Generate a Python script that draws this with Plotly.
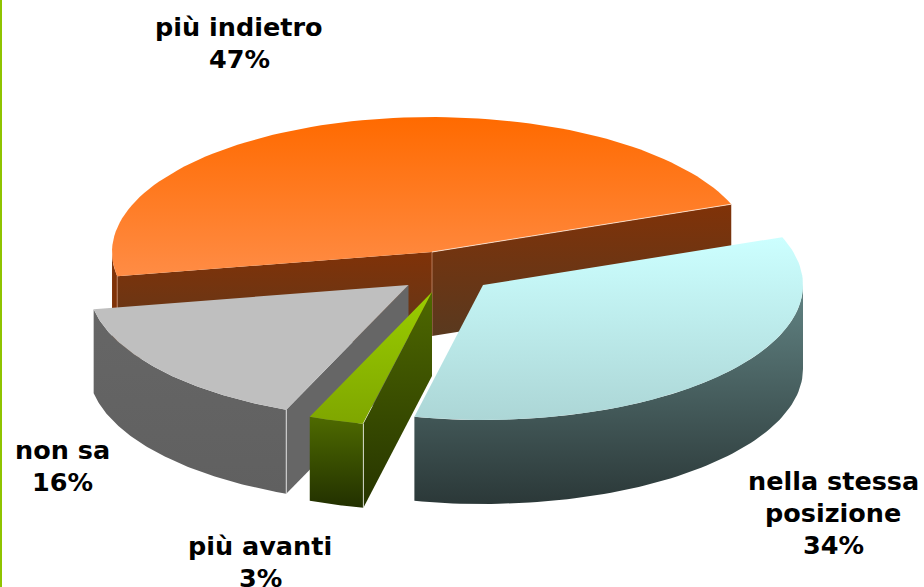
import numpy as np
import plotly.graph_objects as go

# --- data ---
labels = ["più indietro", "nella stessa<br>posizione", "più avanti", "non sa"]
values = [47.1, 34.2, 2.8, 15.9]

# --- style / geometry of the fake-3D pie ---
START_DEG = 190.3            # first slice starts here, runs clockwise
RX, RY, DEPTH = 320, 135, 84
offsets = [(432, 252), (483, 285), (432, 292), (408.5, 285)]
top_grad = [("#ff6a00", "#ff8c45"), ("#ccffff", "#acd6d6"), ("#9acd00", "#7fa600"), ("#bfbfbf", "#bfbfbf")]
wall_grad = [("#7f3208", "#7f3208"), ("#628484", "#2b3838"), ("#4e6a00", "#223000"), ("#666666", "#606060")]
cut_grad = [("#803208", "#59391f"), None, ("#4e6800", "#263400"), ("#666666", "#666666")]
label_pos = [(239, 27), (833, 481), (260, 546), (62, 450)]
LINE_STEP = 32

fig = go.Figure()


def poly(xs, ys, colors):
    fig.add_trace(go.Scatter(
        x=xs, y=ys, mode="lines", fill="toself", line=dict(width=0),
        fillgradient=dict(type="vertical", colorscale=[[0, colors[1]], [1, colors[0]]]),
        hoverinfo="skip", showlegend=False))


def edge(xs, ys, color="rgba(255,255,255,0.75)", width=1):
    fig.add_trace(go.Scatter(x=xs, y=ys, mode="lines", line=dict(color=color, width=width),
                             hoverinfo="skip", showlegend=False))


total = sum(values)
angles = [START_DEG]
for v in values:
    angles.append(angles[-1] - 360 * v / total)


def rim(i):
    t = np.radians(np.linspace(angles[i], angles[i + 1], 90))
    cx, cy = offsets[i]
    return cx + RX * np.cos(t), cy - RY * np.sin(t)


def draw_slice(i):
    cx, cy = offsets[i]
    ex, ey = rim(i)
    # cut faces
    if cut_grad[i]:
        ends = [(ex[0], ey[0]), (ex[-1], ey[-1])] if i == 0 else [(ex[0], ey[0])]
        for px, py in ends:
            poly([cx, px, px, cx, cx], [cy, py, py + DEPTH, cy + DEPTH, cy], cut_grad[i])
    # outer wall: only the part of the rim that faces front
    front = ey >= cy
    if front.sum() > 1:
        wx, wy = ex[front], ey[front]
        poly(list(wx) + list(wx[::-1]), list(wy) + list(wy[::-1] + DEPTH), wall_grad[i])
    # top
    poly([cx] + list(ex) + [cx], [cy] + list(ey) + [cy], top_grad[i])
    return ex, ey


# back slice first, then the rest in depth order
ex0, ey0 = draw_slice(0)
edge([offsets[0][0]] * 2, [offsets[0][1], offsets[0][1] + DEPTH], "rgba(230,170,140,0.6)")
edge([ex0[0]] * 2, [ey0[0], ey0[0] + DEPTH], "rgba(230,170,140,0.6)")
edge([offsets[0][0], ex0[-1]], [offsets[0][1], ey0[-1]], "rgba(255,235,220,0.8)")
ex3, ey3 = draw_slice(3)
edge([ex3[0]] * 2, [ey3[0], ey3[0] + DEPTH])
draw_slice(1)
ex2, ey2 = draw_slice(2)
edge([ex2[0]] * 2, [ey2[0], ey2[0] + DEPTH])

# green stripe on the left page edge
fig.add_shape(type="rect", x0=0, x1=2, y0=0, y1=587, fillcolor="#8fc400", line_width=0, layer="above")

for lab, val, (x, y) in zip(labels, values, label_pos):
    lines = lab.split("<br>") + [f"{val:.0f}%"]
    for k, line in enumerate(lines):
        fig.add_annotation(x=x, y=y + k * LINE_STEP, text=f"<b>{line}</b>", showarrow=False,
                           font=dict(family="DejaVu Sans", size=25.5, color="#000000"),
                           xanchor="center", yanchor="middle", align="center")

fig.update_layout(
    width=924, height=587, margin=dict(l=0, r=0, t=0, b=0),
    paper_bgcolor="white", plot_bgcolor="white", showlegend=False,
    xaxis=dict(range=[0, 924], visible=False, fixedrange=True),
    yaxis=dict(range=[587, 0], visible=False, fixedrange=True),
)
fig.write_html("out.html", config=dict(displayModeBar=False),
               post_script="document.body.style.margin='0';document.body.style.overflow='hidden';")
